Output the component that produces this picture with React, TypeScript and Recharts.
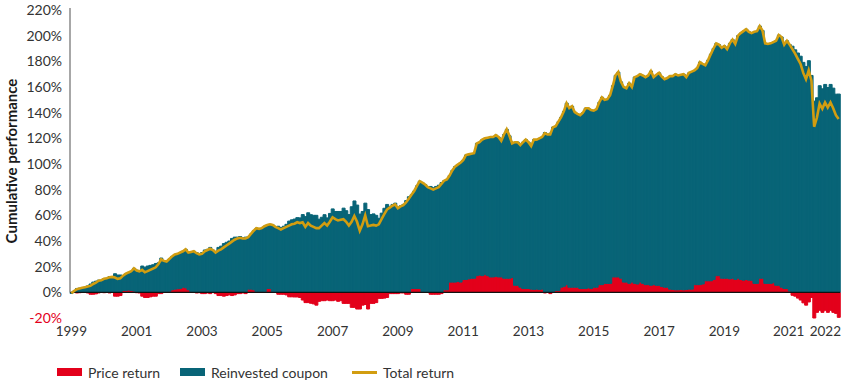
import { ComposedChart, Bar, Line, XAxis, YAxis, ReferenceLine } from "recharts";

const START_YEAR = 1999;

// cumulative total return in %, monthly from Jan 1999 to Jul 2022 (one row per year)
const totalReturn = [
  -0.8, 1, 2.5, 3, 3.5, 4, 4.5, 5, 6.5, 7.5, 9, 9.5,
  10.5, 11, 11.7, 12, 11.5, 10.5, 11, 13, 14.5, 15.5, 16.4, 18.7,
  17, 16.4, 17.5, 15.6, 16.5, 17.5, 18.5, 19.5, 22, 25.7, 24.5, 24,
  26, 28, 29.5, 30, 31, 32, 33.5, 31, 31.5, 32, 30.5, 29.6,
  30, 32, 33, 34, 33, 31, 32.5, 33.5, 35, 36.5, 38, 39.5,
  41, 42, 42.5, 42, 42, 43, 45.5, 48, 50, 49.5, 50, 51.5,
  52.5, 53, 52.5, 51, 50, 49, 50, 51, 52, 53, 53.5, 54.6,
  54, 54.6, 51, 54, 52, 51, 50, 50, 52, 54, 52, 55,
  58.5, 57, 56, 56.5, 57, 55, 52, 55, 59.5, 55, 48, 53,
  60, 51.5, 52, 52.5, 52, 53, 57, 61, 64.5, 66, 67.5, 68.5,
  65.5, 67, 68, 70, 73, 76, 79, 83, 86.6, 85.5, 84, 82,
  81, 80, 81, 82, 84.5, 87, 88, 91, 95, 98, 99.5, 101,
  103, 107, 107.5, 108, 108.4, 116, 117, 119, 120, 120.5, 121, 121,
  122.5, 121, 118, 123, 127, 122, 116, 117, 117, 114.7, 117, 119,
  117, 114, 119, 119, 120, 121, 124, 123, 123, 128.7, 129.5, 133,
  136.5, 141, 147.4, 143.5, 145, 140.4, 139, 138, 140, 143.5, 143.5, 142,
  141.5, 142.7, 148, 152, 150, 150.5, 153.7, 161, 169, 171.6, 164, 160,
  159, 163, 160, 167.7, 168.5, 170, 169, 167.7, 169, 172.4, 167.7, 169.5,
  171, 168, 166, 167, 168.5, 168.5, 170, 169, 169.5, 170, 167.7, 171,
  172, 173, 174.7, 179.4, 178, 177, 181, 185.6, 190, 194, 193, 190.5,
  192, 189.5, 194, 197, 193.5, 200, 202, 203.5, 205, 203, 202, 203,
  203.5, 207.5, 204, 194, 193.5, 194, 195, 196, 200.5, 199, 193, 196,
  193, 189.5, 186, 182, 178, 171, 166, 173, 165, 129, 136, 147,
  143, 148, 144, 148, 143.5, 138, 135,
];

// cumulative price return in %, same months
const priceReturn = [
  0, 0.3, -0.5, -0.3, 0.2, 0.5, -0.5, -1.5, -1.5, -1.2, -0.5, 0.3,
  -0.3, 0.2, -0.5, 0.3, -3, -3, -2.5, 1.5, 1.5, 1.8, 1.5, 1,
  -0.3, -0.5, -3, -4, -4, -3.5, -3, -3, -1, -1, 0.5, 0.5,
  0.8, 2, 2.5, 2.8, 3, 4, 3.5, 2, 0.5, 0, -0.5, -0.3,
  -1, -1, -0.5, -1, 0.5, -1, -2.5, -2.5, -3, -2.5, -2, -2.5,
  -2, -1, -1, -0.5, -1, 2.5, 2.5, 2, 0.5, 0.5, 0.3, 0.5,
  3, 3, 0.5, 0.3, -1.5, -1.5, -1.5, -2, -3.5, -3.5, -3.6, -3.6,
  -4, -6, -8, -8, -8.5, -9, -10, -7, -6.5, -6.5, -6, -6.5,
  -6.5, -6, -7, -6.5, -8.6, -8.6, -8.6, -11.7, -11.7, -13, -13, -10,
  -9.5, -13, -8.6, -8.6, -8, -4.7, -4.7, -4.5, -4, -1, -1, -1,
  -1, -0.5, -0.5, -1.5, -1.5, 3, 3, 3, 3, 0.5, 0.3, 0.5,
  -1.5, -1.5, -1.5, -1.5, -1, 2, 2, 8, 8, 8, 8.5, 8,
  10, 10, 10.5, 11, 11, 13, 13.5, 13, 14, 13, 12, 12,
  12.5, 12, 12, 11, 11, 11, 11.5, 5.5, 5.5, 4, 3, 3,
  3, 2.5, 2.3, 2.5, 2.3, 2.5, -0.5, 0.5, -1, 0.5, 1.5, 1.5,
  4, 4.7, 6, 4, 4, 4, 4, 3, 3, 3, 3.5, 3,
  4, 4, 6, 6, 7, 7, 7, 12, 12, 12, 11, 8,
  8, 7, 8, 7, 6.5, 8, 7, 6, 6, 5.5, 6, 5.5,
  5.5, 4.5, 4, 4, 2.5, 2.3, 2, 2, 2.3, 2, 2.3, 2.5,
  2.5, 6, 6, 6, 6.5, 9, 9, 9, 10, 13, 13, 11,
  11, 11, 10.5, 11, 10, 11, 10, 9.5, 10, 9.5, 9.4, 7,
  7, 11, 11, 7, 7, 7, 7.5, 5.5, 5.5, 4, 3, 3,
  1, -2.3, -3, -4.5, -6, -8.2, -10, -7.5, -4, -20, -15.6, -14,
  -15.6, -14, -15.6, -14, -15.6, -16.4, -19.5,
];

const yTicks = [-20, 0, 20, 40, 60, 80, 100, 120, 140, 160, 180, 200, 220];
const yearTicks = [1999, 2001, 2003, 2005, 2007, 2009, 2011, 2013, 2015, 2017, 2019, 2021, 2022];

const RED = "#e3001b";
const TEAL = "#086477";
const GOLD = "#d29d10";
const TEXT = "#333333";
const FONT = "Lato, 'Open Sans', sans-serif";

const data = totalReturn.map((total, i) => {
  const year = START_YEAR + Math.floor(i / 12);
  const month = String((i % 12) + 1).padStart(2, "0");
  return {
    date: `${year}-${month}`,
    price: priceReturn[i],
    coupon: total - priceReturn[i],
    total,
  };
});

const xTicks = yearTicks.map((y) => `${y}-01`);

function XTick(props: any) {
  const { x, y, payload } = props;
  const label = String(payload.value).slice(0, 4);
  // the last two labels sit close together, nudge them apart a little
  const dx = label === "2022" ? 3 : label === "2021" ? -1 : 0;
  return (
    <text x={x + dx} y={y} dy="0.71em" textAnchor="middle" fontSize={13.5} fontFamily={FONT} fill={TEXT}>
      {label}
    </text>
  );
}

function YTick(props: any) {
  const { x, y, payload } = props;
  const v = payload.value;
  return (
    <text
      x={x}
      y={y}
      dy="0.36em"
      textAnchor="end"
      fontSize={14}
      fontFamily={FONT}
      fill={v < 0 ? RED : TEXT}
    >
      {`${v}%`}
    </text>
  );
}

// axis title plus the grey axis line, which only runs from 0% upwards
function AxisTitle(props: any) {
  const vb = props.viewBox || {};
  const right = vb.x + vb.width;
  const zeroY = vb.y + (vb.height * 220) / 240;
  const cy = vb.y + vb.height / 2 - 3;
  return (
    <g>
      <line x1={right} x2={right} y1={vb.y - 2} y2={zeroY} stroke="#8a8a8a" strokeWidth={1.5} />
      <text
        x={11}
        y={cy}
        transform={`rotate(-90, 11, ${cy})`}
        textAnchor="middle"
        dominantBaseline="central"
        fontSize={15}
        fontWeight={700}
        fontFamily={FONT}
        fill="#1a1a1a"
      >
        Cumulative performance
      </text>
    </g>
  );
}

function LegendItem({ left, label, kind, color }: { left: number; label: string; kind: "box" | "line"; color: string }) {
  return (
    <div style={{ position: "absolute", left, top: 363, display: "flex", alignItems: "center", height: 18 }}>
      <div
        style={{
          width: 25,
          height: kind === "box" ? 8 : 3,
          background: color,
          marginRight: 6,
        }}
      />
      <span style={{ fontSize: 14, color: TEXT, fontFamily: FONT }}>{label}</span>
    </div>
  );
}

export default function App() {
  return (
    <div style={{ position: "relative", width: 850, height: 382, background: "#fff" }}>
      <style>{`body{margin:0}`}</style>
      <ComposedChart
        width={850}
        height={382}
        data={data}
        stackOffset="sign"
        barCategoryGap={0}
        barGap={0}
        margin={{ top: 10, right: 10, bottom: 34, left: 0 }}
      >
        <XAxis
          dataKey="date"
          ticks={xTicks}
          interval={0}
          axisLine={false}
          tickLine={false}
          height={30}
          tick={<XTick />}
        />
        <YAxis
          domain={[-20, 220]}
          ticks={yTicks}
          interval={0}
          width={70}
          axisLine={false}
          tickLine={false}
          tick={<YTick />}
          label={<AxisTitle />}
        />
        <Bar dataKey="price" stackId="a" fill={RED} stroke={RED} strokeWidth={1} isAnimationActive={false} />
        <Bar dataKey="coupon" stackId="a" fill={TEAL} stroke={TEAL} strokeWidth={1} isAnimationActive={false} />
        <ReferenceLine y={0} stroke="#111" strokeWidth={1.2} />
        <Line
          type="linear"
          dataKey="total"
          stroke={GOLD}
          strokeWidth={2.6}
          dot={false}
          activeDot={false}
          isAnimationActive={false}
        />
      </ComposedChart>
      <LegendItem left={57} label="Price return" kind="box" color={RED} />
      <LegendItem left={180} label="Reinvested coupon" kind="box" color={TEAL} />
      <LegendItem left={352} label="Total return" kind="line" color={GOLD} />
    </div>
  );
}
